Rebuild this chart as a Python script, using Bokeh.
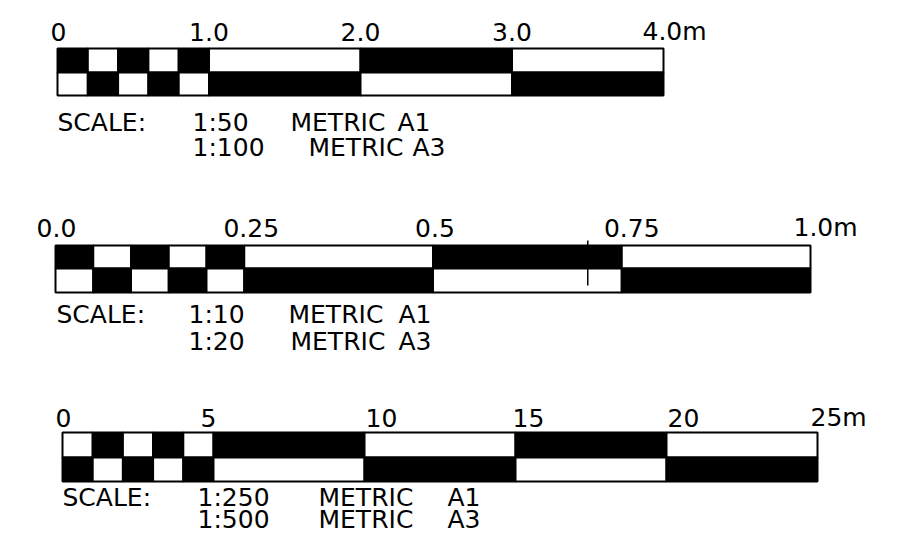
from bokeh.plotting import figure
from bokeh.models import Range1d, ColumnDataSource
from bokeh.embed import file_html
from bokeh.resources import INLINE
from bokeh.core.properties import value, field

# ---------------- data ----------------
# scale bar 1 (metres)
bar1_edges = [0.0, 0.2, 0.4, 0.6, 0.8, 1.0, 2.0, 3.0, 4.0]
bar1_first_top = "black"
bar1_tick_values = [0.0, 1.0, 2.0, 3.0, 4.0]
bar1_tick_labels = ["0", "1.0", "2.0", "3.0", "4.0m"]
bar1_caption1 = ["SCALE:", "1:50", "METRIC", "A1"]
bar1_caption2 = ["1:100", "METRIC", "A3"]
bar1_marks = []

# scale bar 2 (metres)
bar2_edges = [0.0, 0.05, 0.10, 0.15, 0.20, 0.25, 0.5, 0.75, 1.0]
bar2_first_top = "black"
bar2_tick_values = [0.0, 0.25, 0.5, 0.75, 1.0]
bar2_tick_labels = ["0.0", "0.25", "0.5", "0.75", "1.0m"]
bar2_caption1 = ["SCALE:", "1:10", "METRIC", "A1"]
bar2_caption2 = ["1:20", "METRIC", "A3"]
bar2_marks = [0.705]

# scale bar 3 (metres)
bar3_edges = [0, 1, 2, 3, 4, 5, 10, 15, 20, 25]
bar3_first_top = "white"
bar3_tick_values = [0, 5, 10, 15, 20, 25]
bar3_tick_labels = ["0", "5", "10", "15", "20", "25m"]
bar3_caption1 = ["SCALE:", "1:250", "METRIC", "A1"]
bar3_caption2 = ["1:500", "METRIC", "A3"]
bar3_marks = []

# ---------------- layout (picture pixels) ----------------
W, H = 884, 534

layouts = [
    dict(left=57, right=663, top=48, mid=72, bot=95, lab=31,
         align=["center", "center", "center", "center", "left"],
         xoff=[1, 0, 0, 0, -21],
         cap1_x=[57, 192, 290, 397], cap1_y=122,
         cap2_x=[192, 308, 412], cap2_y=147,
         mark_top=240, mark_bot=285),
    dict(left=55, right=810, top=245, mid=268, bot=292, lab=227,
         align=["center", "center", "center", "center", "left"],
         xoff=[1, 7, 2, 10, -17],
         cap1_x=[56, 188, 288, 398], cap1_y=314,
         cap2_x=[188, 290, 398], cap2_y=341,
         mark_top=240, mark_bot=285),
    dict(left=62, right=817, top=432, mid=457, bot=481, lab=417,
         align=["center", "center", "left", "left", "left", "left"],
         xoff=[1, -5, 1, -3, 1, -7],
         cap1_x=[62, 197, 318, 447], cap1_y=497,
         cap2_x=[197, 318, 447], cap2_y=519,
         mark_top=428, mark_bot=478),
]

bars = [
    (bar1_edges, bar1_first_top, bar1_tick_values, bar1_tick_labels,
     bar1_caption1, bar1_caption2, bar1_marks),
    (bar2_edges, bar2_first_top, bar2_tick_values, bar2_tick_labels,
     bar2_caption1, bar2_caption2, bar2_marks),
    (bar3_edges, bar3_first_top, bar3_tick_values, bar3_tick_labels,
     bar3_caption1, bar3_caption2, bar3_marks),
]

FONT = value("DejaVu Sans")
FSIZE = "25px"

p = figure(width=W, height=H, output_backend="svg", toolbar_location=None,
           x_range=Range1d(0, W), y_range=Range1d(H, 0),
           x_axis_location=None, y_axis_location=None,
           min_border=0, outline_line_color=None,
           background_fill_color="white", border_fill_color="white")
p.grid.visible = False

other = {"black": "white", "white": "black"}

for i, (bar, lay) in enumerate(zip(bars, layouts)):
    edges, first, tvals, tlabs, cap1, cap2, marks = bar
    name = f"bar{i}"
    span = edges[-1] - edges[0]
    scale = (lay["right"] - lay["left"]) / span
    start = edges[0] - lay["left"] / scale
    p.extra_x_ranges[name] = Range1d(start, start + W / scale)

    n = len(edges) - 1
    top_colors = [first if k % 2 == 0 else other[first] for k in range(n)]
    bot_colors = [other[c] for c in top_colors]
    rows = ColumnDataSource(dict(
        left=list(edges[:-1]) * 2,
        right=list(edges[1:]) * 2,
        top=[lay["top"]] * n + [lay["mid"]] * n,
        bottom=[lay["mid"]] * n + [lay["bot"]] * n,
        color=top_colors + bot_colors,
    ))
    p.quad(left="left", right="right", top="top", bottom="bottom",
           fill_color="color", line_color="black", line_width=2,
           source=rows, x_range_name=name)

    for mk in marks:
        p.segment(x0=[mk], x1=[mk], y0=[lay["mark_top"]],
                  y1=[lay["mark_bot"]], line_color="black",
                  line_width=1.5, x_range_name=name)

    labs = ColumnDataSource(dict(
        x=list(tvals), y=[lay["lab"]] * len(tvals), text=list(tlabs),
        align=lay["align"], xoff=lay["xoff"],
    ))
    p.text(x="x", y="y", text="text", source=labs, x_range_name=name,
           text_align=field("align"), x_offset=field("xoff"),
           text_baseline="middle", text_font=FONT,
           text_font_size=FSIZE, text_color="black")

    caps = ColumnDataSource(dict(
        x=list(lay["cap1_x"]) + list(lay["cap2_x"]),
        y=[lay["cap1_y"]] * len(cap1) + [lay["cap2_y"]] * len(cap2),
        text=list(cap1) + list(cap2),
    ))
    p.text(x="x", y="y", text="text", source=caps,
           text_align="left", text_baseline="middle", text_font=FONT,
           text_font_size=FSIZE, text_color="black")

open("out.html", "w").write(file_html(p, INLINE))
